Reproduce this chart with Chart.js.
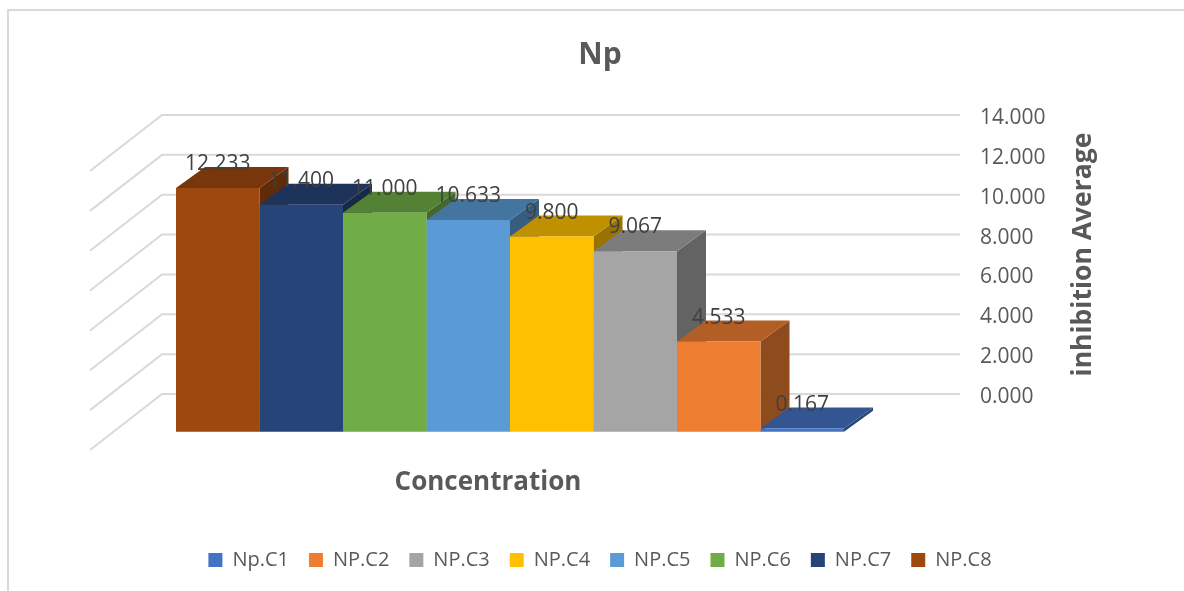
<!DOCTYPE html>
<html>
<head>
<meta charset="utf-8">
<title>Np</title>
<script src="https://cdn.jsdelivr.net/npm/chart.js@4"></script>
<style>
    html, body { margin: 0; background: #fff; }
    #wrap { width: 1184px; height: 591px; }
</style>
</head>
<body>
<div id="wrap"><canvas id="npChart"></canvas></div>
<script>
// ======================
// Data
// ======================
const seriesNames = ['Np.C1', 'NP.C2', 'NP.C3', 'NP.C4', 'NP.C5', 'NP.C6', 'NP.C7', 'NP.C8'];
const seriesValues = [0.167, 4.533, 9.067, 9.8, 10.633, 11, 11.4, 12.233];
const seriesColors = ['#4472C4', '#ED7D31', '#A5A5A5', '#FFC000', '#5B9BD5', '#70AD47', '#264478', '#9E480E'];
const yTicks = [0, 2, 4, 6, 8, 10, 12, 14];

const textColor = '#595959';
const labelColor = '#404040';
const gridColor = '#D9D9D9';
const fontFamily = '"Open Sans", sans-serif';

// bar depth, and how far the floor of the box sticks out in front of the back wall
const depthX = 29;
const depthY = 21;
const wallX = 72;
const wallY = 56;

function shade(hex, factor) {
    const n = parseInt(hex.slice(1), 16);
    const r = Math.round((n >> 16) * factor);
    const g = Math.round(((n >> 8) & 255) * factor);
    const b = Math.round((n & 255) * factor);
    return `rgb(${r}, ${g}, ${b})`;
}

function fillPoly(ctx, color, points) {
    ctx.fillStyle = color;
    ctx.beginPath();
    points.forEach(([x, y], i) => (i ? ctx.lineTo(x, y) : ctx.moveTo(x, y)));
    ctx.closePath();
    ctx.fill();
}

// ======================
// Fake 3D box around the bars
// ======================
const box3d = {
    id: 'box3d',
    beforeDatasetsDraw(chart) {
        const { ctx, chartArea, scales } = chart;
        const backLeft = chartArea.right - 798;

        ctx.save();
        // frame of the chart object
        ctx.strokeStyle = gridColor;
        ctx.lineWidth = 2;
        ctx.beginPath();
        ctx.moveTo(8, chart.height);
        ctx.lineTo(8, 10);
        ctx.lineTo(chart.width, 10);
        ctx.stroke();

        // grid lines on the back wall and the side wall
        yTicks.forEach((tick) => {
            const y = scales.y.getPixelForValue(tick);
            ctx.beginPath();
            ctx.moveTo(backLeft - wallX, y + wallY);
            ctx.lineTo(backLeft, y);
            ctx.lineTo(chartArea.right, y);
            ctx.stroke();
        });

        // side and top faces, left bar first so the next one covers it
        chart.getSortedVisibleDatasetMetas().forEach((meta) => {
            const bar = meta.data[0];
            const color = chart.data.datasets[meta.index].backgroundColor;
            const half = bar.width / 2;
            const l = bar.x - half;
            const r = bar.x + half;
            fillPoly(ctx, shade(color, 0.6), [
                [r, bar.y], [r + depthX, bar.y - depthY], [r + depthX, bar.base - depthY], [r, bar.base]
            ]);
            fillPoly(ctx, shade(color, 0.75), [
                [l, bar.y], [l + depthX, bar.y - depthY], [r + depthX, bar.y - depthY], [r, bar.y]
            ]);
        });
        ctx.restore();
    },
    afterDatasetsDraw(chart) {
        const { ctx, chartArea } = chart;
        ctx.save();
        ctx.textAlign = 'center';
        ctx.textBaseline = 'middle';

        // value labels
        ctx.fillStyle = labelColor;
        ctx.font = `21px ${fontFamily}`;
        chart.getSortedVisibleDatasetMetas().forEach((meta) => {
            const bar = meta.data[0];
            ctx.fillText(chart.data.datasets[meta.index].data[0].toFixed(3), bar.x, bar.y - 24);
        });

        // x axis title sits left of the plot centre
        ctx.fillStyle = textColor;
        ctx.font = `bold 26px ${fontFamily}`;
        ctx.fillText('Concentration', chartArea.left + 428, 483);

        // y axis title reads upwards although the axis is on the right
        ctx.translate(chartArea.right + 123, (chartArea.top + chartArea.bottom) / 2);
        ctx.rotate(-Math.PI / 2);
        ctx.font = `bold 26.5px ${fontFamily}`;
        ctx.fillText('inhibition Average', 0, 0);
        ctx.restore();
    }
};

// ======================
// Chart
// ======================
// the tallest bar is on the left, so the datasets run C8 to C1 and the legend is flipped back
const datasets = seriesNames.map((name, i) => ({
    label: name,
    data: [seriesValues[i]],
    backgroundColor: seriesColors[i],
    yAxisID: 'yBars',
    base: 0,
    clip: false,
    categoryPercentage: 668 / 900,
    barPercentage: 1
})).reverse();

new Chart(document.getElementById('npChart'), {
    type: 'bar',
    data: {
        labels: ['Np'],
        datasets: datasets
    },
    options: {
        responsive: true,
        maintainAspectRatio: false,
        animation: false,
        layout: {
            padding: { left: 60, right: 44, top: 37, bottom: 11 }
        },
        scales: {
            x: {
                grid: { display: false },
                border: { display: false },
                ticks: { display: false },
                afterFit(scale) {
                    scale.height = 136;
                }
            },
            // ticks on the back wall
            y: {
                position: 'right',
                min: 0,
                max: 14,
                grid: { display: false },
                border: { display: false },
                afterBuildTicks(scale) {
                    scale.ticks = yTicks.map((value) => ({ value }));
                },
                afterFit(scale) {
                    scale.width = 180;
                },
                ticks: {
                    color: textColor,
                    padding: 12,
                    labelOffset: 3,
                    font: { family: fontFamily, size: 21 },
                    callback: (value) => value.toFixed(3)
                }
            },
            // bars stand in front of the back wall, so their zero is 38px lower
            yBars: {
                display: false,
                position: 'right',
                min: 1.9,
                max: 15.9
            }
        },
        plugins: {
            legend: {
                position: 'bottom',
                reverse: true,
                labels: {
                    color: textColor,
                    boxWidth: 14,
                    boxHeight: 14,
                    padding: 20,
                    font: { family: fontFamily, size: 20 }
                }
            },
            title: {
                display: true,
                text: 'Np',
                color: textColor,
                font: { family: fontFamily, size: 30, weight: 'bold' },
                padding: { top: 0, bottom: 42 }
            },
            tooltip: { enabled: false }
        }
    },
    plugins: [box3d]
});
</script>
</body>
</html>
